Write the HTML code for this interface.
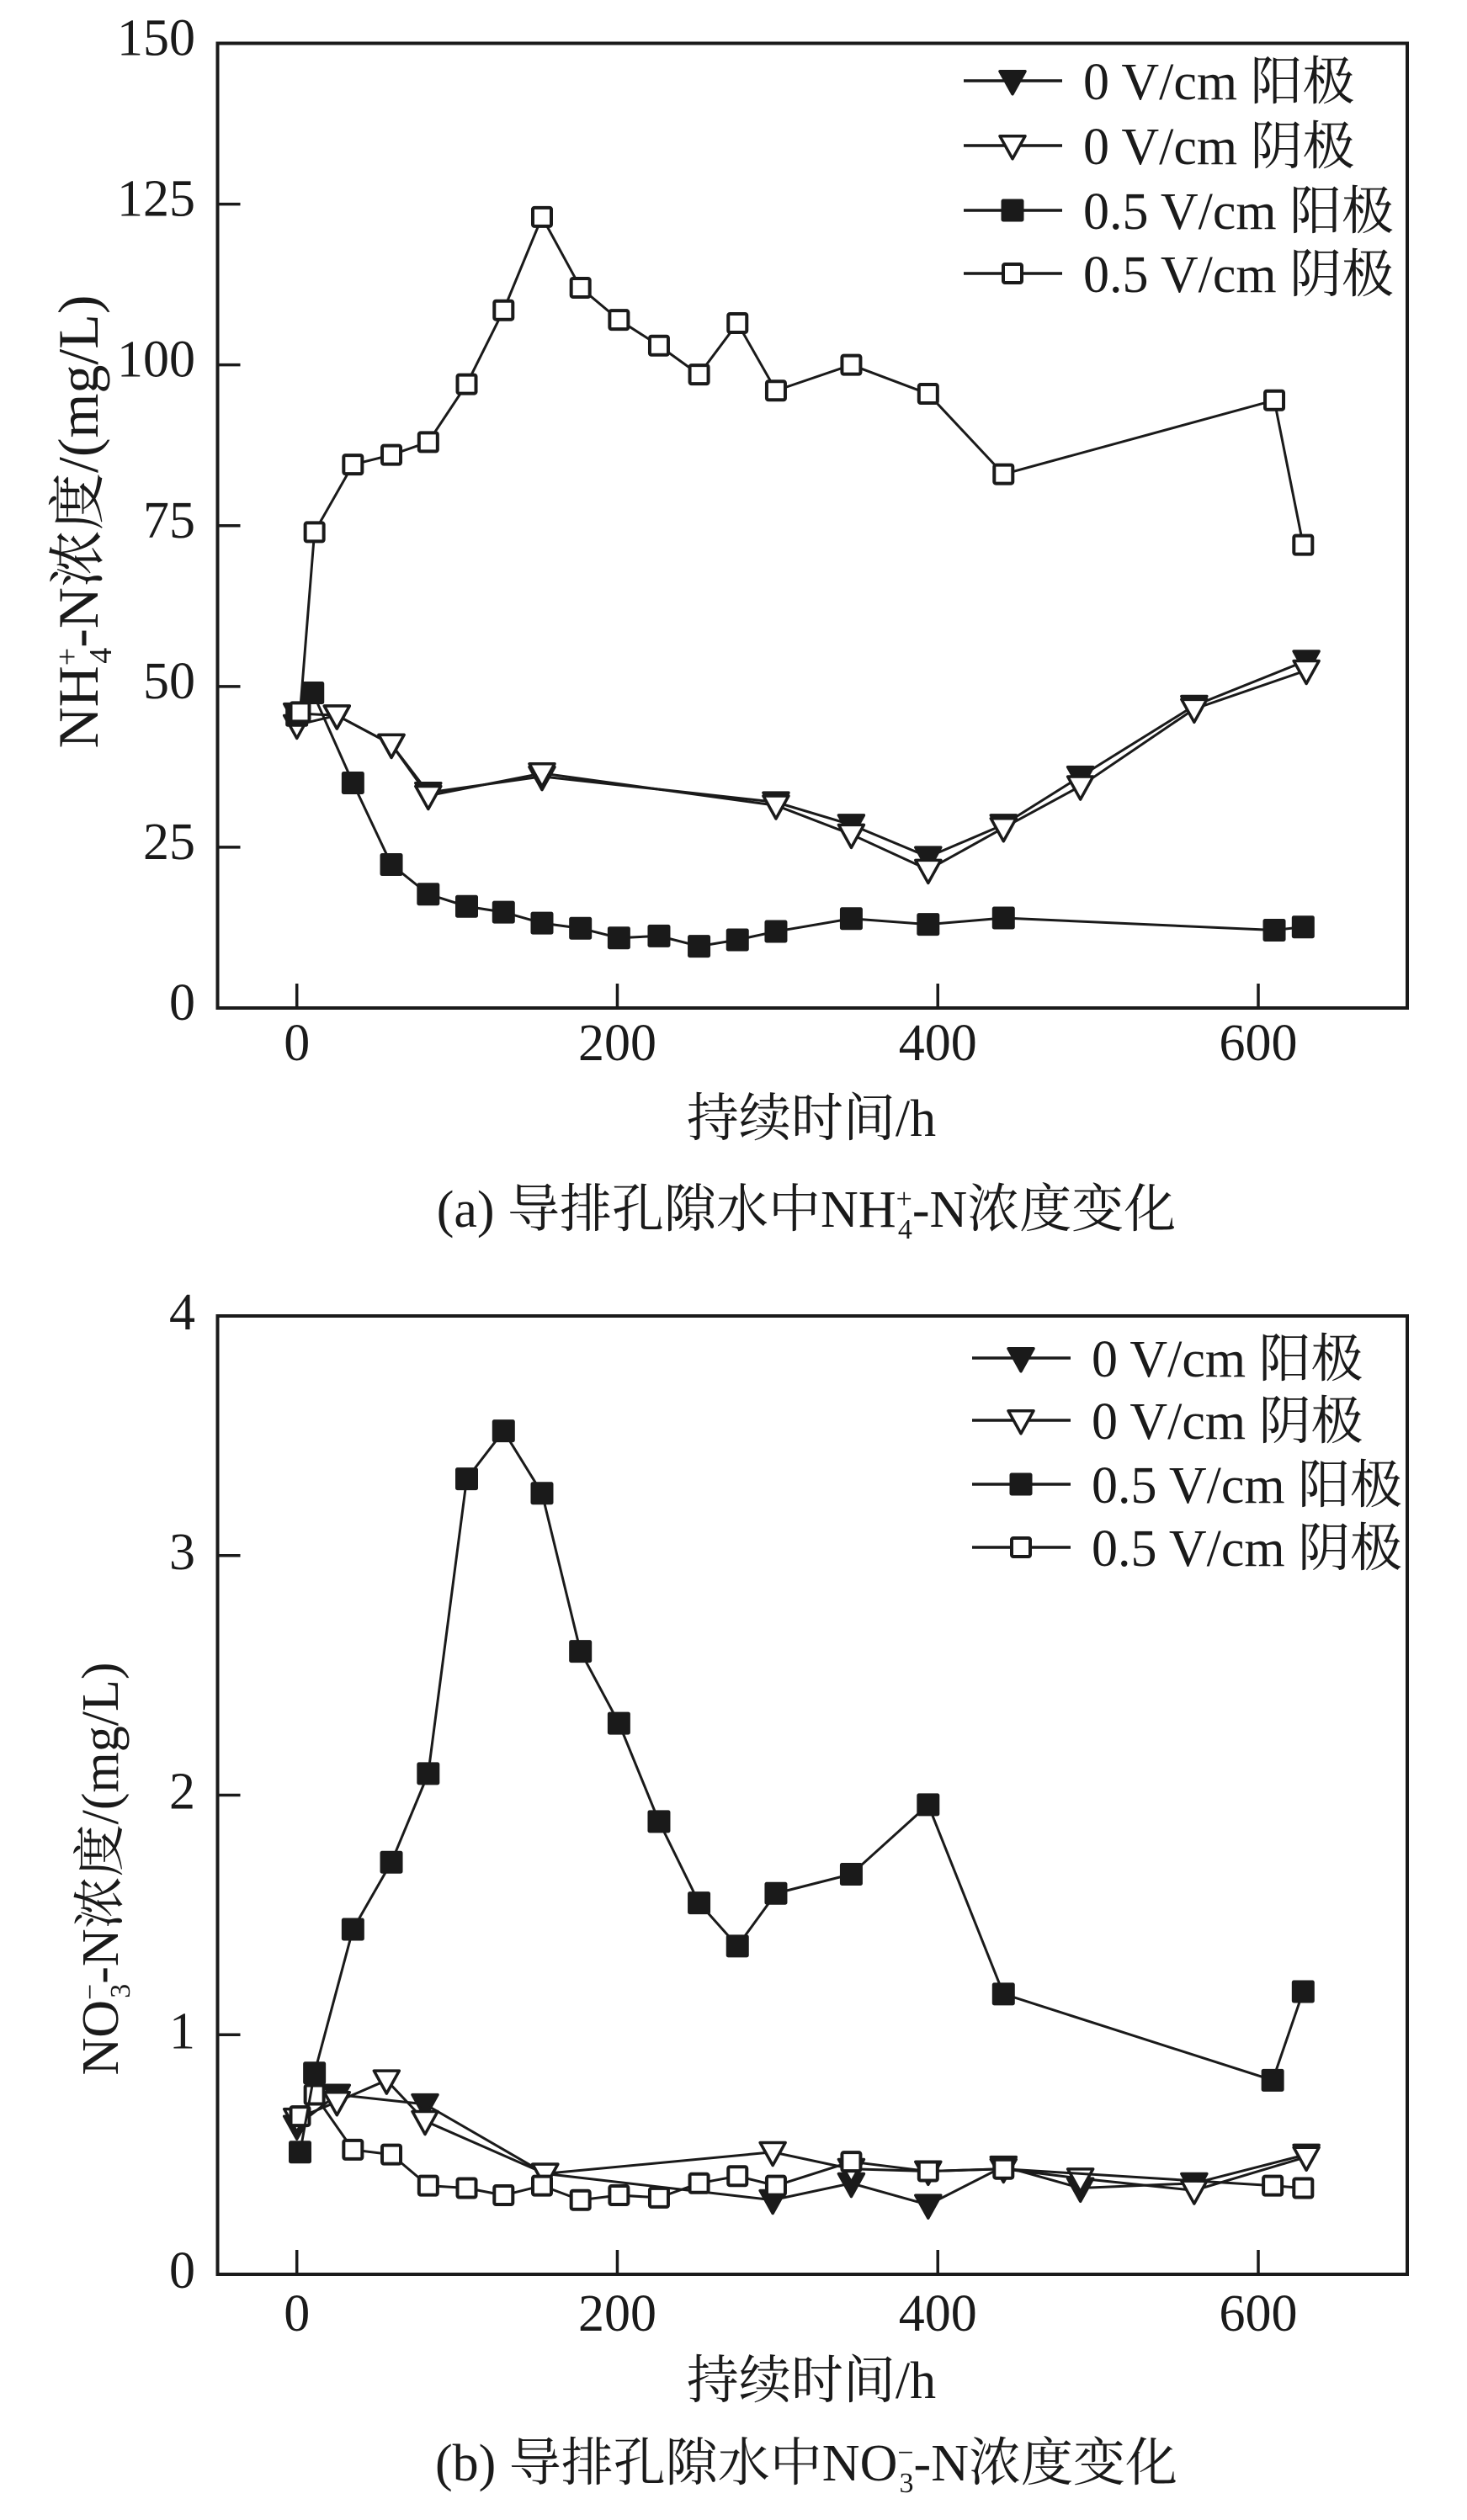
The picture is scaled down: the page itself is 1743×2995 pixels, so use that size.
<!DOCTYPE html>
<html><head><meta charset="utf-8"><style>
html,body{margin:0;padding:0;background:#fff;}
svg{display:block;}
text{font-family:"Liberation Serif","Noto Serif CJK SC",serif;fill:#1a1a1a;}
</style></head><body>
<svg id="fig" width="1743" height="2995" viewBox="0 0 1743 2995" xmlns="http://www.w3.org/2000/svg">
<g id="chartA"></g>
<g id="chartB"></g>
<text x="964" y="1350" font-size="62" text-anchor="middle">持续时间/h</text>
<text x="958" y="1458" font-size="62" text-anchor="middle">(a) 导排孔隙水中NH<tspan font-size="34" dy="-22">+</tspan><tspan font-size="34" dx="-17" dy="36">4</tspan><tspan dy="-14">-N浓度变化</tspan></text>
<text x="964" y="2850" font-size="62" text-anchor="middle">持续时间/h</text>
<text x="958" y="2948" font-size="62" text-anchor="middle">(b) 导排孔隙水中NO<tspan font-size="34" dy="-22">−</tspan><tspan font-size="34" dx="-17" dy="36">3</tspan><tspan dy="-14">-N浓度变化</tspan></text>
<text transform="translate(116,620) rotate(-90)" font-size="68" text-anchor="middle">NH<tspan font-size="38" dy="-24">+</tspan><tspan font-size="38" dx="-19" dy="40">4</tspan><tspan dy="-16">-N浓度/(mg/L)</tspan></text>
<text transform="translate(140,2221) rotate(-90)" font-size="62" text-anchor="middle">NO<tspan font-size="34" dy="-22">−</tspan><tspan font-size="34" dx="-17" dy="36">3</tspan><tspan dy="-14">-N浓度/(mg/L)</tspan></text>
</svg>
<script>
// ---- Chart (a) data: NH4+-N (mg/L) ----
const aOpenSqT = [2,11,35,59,82,106,129,153,177,201,226,251,275,299,346,394,441,610,628];
const aOpenSqV = [46,74,84.5,86,88,97,108.5,123,112,107,103,98.5,106.5,96,100,95.5,83,94.5,72];
const aFillSqT = [0,10,35,59,82,106,129,153,177,201,226,251,275,299,346,394,441,610,628];
const aFillSqV = [45.5,49,35,22.3,17.7,15.8,14.9,13.2,12.4,10.9,11.2,9.6,10.6,11.9,13.9,13,14,12.1,12.6];
const aFillTriT = [0,25,59,82,153,299,346,394,441,489,560,630];
const aFillTriV = [45.8,45.5,41,33.5,36,32,28.5,23.5,28.5,36,47,54];
const aOpenTriT = [0,25,59,82,153,299,346,394,441,489,560,630];
const aOpenTriV = [44,45.5,41,33,36.5,31.5,27,21.5,28,34.5,46.5,52.5];
const aYTicks = [0,25,50,75,100,125,150];
const xTicks = [0,200,400,600];
// ---- Chart (b) data: NO3--N (mg/L) ----
const bFillSqT = [2,11,35,59,82,106,129,153,177,201,226,251,275,299,346,394,441,609,628];
const bFillSqV = [0.51,0.84,1.44,1.72,2.09,3.32,3.52,3.26,2.60,2.30,1.89,1.55,1.37,1.59,1.67,1.96,1.17,0.81,1.18];
const bOpenSqT = [2,11,35,59,82,106,129,153,177,201,226,251,275,299,346,394,441,609,628];
const bOpenSqV = [0.66,0.75,0.52,0.50,0.37,0.36,0.33,0.37,0.31,0.33,0.32,0.38,0.41,0.37,0.47,0.43,0.44,0.37,0.36];
const bOpenTriT = [0,25,56,80,155,297,346,394,441,489,560,630];
const bOpenTriV = [0.65,0.72,0.81,0.64,0.42,0.51,0.44,0.43,0.44,0.40,0.35,0.49];
const bFillTriT = [0,25,80,155,297,346,394,441,489,560,630];
const bFillTriV = [0.62,0.75,0.71,0.42,0.31,0.38,0.29,0.45,0.36,0.38,0.50];
const bYTicks = [0,1,2,3,4];

const NS = "http://www.w3.org/2000/svg";
function mk(parent, tag, attrs){
  const e = document.createElementNS(NS, tag);
  for (const k in attrs) e.setAttribute(k, attrs[k]);
  parent.appendChild(e); return e;
}
function marker(g, type, x, y){
  let e;
  if (type === 'fsq' || type === 'osq') {
    const s = type === 'fsq' ? 26 : 22;
    e = mk(g, 'rect', {x:x-s/2, y:y-s/2, width:s, height:s, rx:2,
      fill: type==='fsq' ? '#1a1a1a' : '#fff', stroke:'#1a1a1a', 'stroke-width': type==='fsq'?1:4});
  } else {
    const s = 15;
    e = mk(g, 'polygon', {points:`${x-s},${y-s*0.75} ${x+s},${y-s*0.75} ${x},${y+s*1.05}`,
      fill: type==='ftri' ? '#1a1a1a' : '#fff', stroke:'#1a1a1a', 'stroke-width':3.5, 'stroke-linejoin':'round'});
  }
  return e;
}
function chart(g, cfg){
  const L=258.5, R=1672, T=cfg.top, B=cfg.bottom;
  const sx = t => 352.7 + t*(1495-352.7)/600;
  const sy = v => B - v*(B-T)/cfg.ymax;
  const frame = mk(g,'rect',{x:L,y:T,width:R-L,height:B-T,fill:'none',stroke:'#1a1a1a','stroke-width':4});
  
  
  cfg.yticks.forEach(v=>{
    const y = sy(v);
    const tk = mk(g,'line',{x1:L,x2:L+27,y1:y,y2:y,stroke:'#1a1a1a','stroke-width':3.5});
    
    
    const tx = mk(g,'text',{x:232,y:y+cfg.yoff,'font-size':62,'text-anchor':'end'});
    tx.textContent = v;
    
    
  });
  xTicks.forEach(t=>{
    const x = sx(t);
    const tk = mk(g,'line',{x1:x,x2:x,y1:B,y2:B-29,stroke:'#1a1a1a','stroke-width':3.5});
    
    
    const tx = mk(g,'text',{x:x,y:B+cfg.xoff,'font-size':62,'text-anchor':'middle'});
    tx.textContent = t;
    
    
  });
  cfg.series.forEach(s=>{
    const sg = mk(g,'g',{});
    
    
    const pts = s.t.map((t,i)=>`${sx(t)},${sy(s.v[i])}`).join(' ');
    const pl = mk(sg,'polyline',{points:pts,fill:'none',stroke:'#1a1a1a','stroke-width':3});
    
    
    s.t.forEach((t,i)=>{
      const m = marker(sg, s.type, sx(t), sy(s.v[i]));
      
      
    });
  });
  const lg = mk(g,'g',{});
  
  
  cfg.legend.forEach((it,i)=>{
    const y = cfg.legY[i];
    const eg = mk(lg,'g',{});
    
    
    mk(eg,'line',{x1:cfg.legX0,x2:cfg.legX0+117,y1:y,y2:y,stroke:'#1a1a1a','stroke-width':3.5});
    marker(eg, it.type, cfg.legX0+58, y);
    const tx = mk(eg,'text',{x:cfg.legX0+142,y:y+22,'font-size':62});
    tx.textContent = it.label;
  });
}
chart(document.getElementById('chartA'), {
  top:51.5, bottom:1198, ymax:150, yticks:aYTicks, yoff:14, xoff:62,
  legX0:1145, legY:[96,173,250,325],
  legend:[{type:'ftri',label:'0 V/cm 阳极'},{type:'otri',label:'0 V/cm 阴极'},{type:'fsq',label:'0.5 V/cm 阳极'},{type:'osq',label:'0.5 V/cm 阴极'}],
  series:[
    {name:'series-0v-anode',type:'ftri',t:aFillTriT,v:aFillTriV},
    {name:'series-0v-cathode',type:'otri',t:aOpenTriT,v:aOpenTriV},
    {name:'series-05v-anode',type:'fsq',t:aFillSqT,v:aFillSqV},
    {name:'series-05v-cathode',type:'osq',t:aOpenSqT,v:aOpenSqV}
  ]
});
chart(document.getElementById('chartB'), {
  top:1564, bottom:2703, ymax:4, yticks:bYTicks, yoff:16, xoff:67,
  legX0:1155, legY:[1614,1688,1764,1839],
  legend:[{type:'ftri',label:'0 V/cm 阳极'},{type:'otri',label:'0 V/cm 阴极'},{type:'fsq',label:'0.5 V/cm 阳极'},{type:'osq',label:'0.5 V/cm 阴极'}],
  series:[
    {name:'series-0v-anode',type:'ftri',t:bFillTriT,v:bFillTriV},
    {name:'series-0v-cathode',type:'otri',t:bOpenTriT,v:bOpenTriV},
    {name:'series-05v-cathode',type:'osq',t:bOpenSqT,v:bOpenSqV},
    {name:'series-05v-anode',type:'fsq',t:bFillSqT,v:bFillSqV}
  ]
});
</script>
</body></html>
